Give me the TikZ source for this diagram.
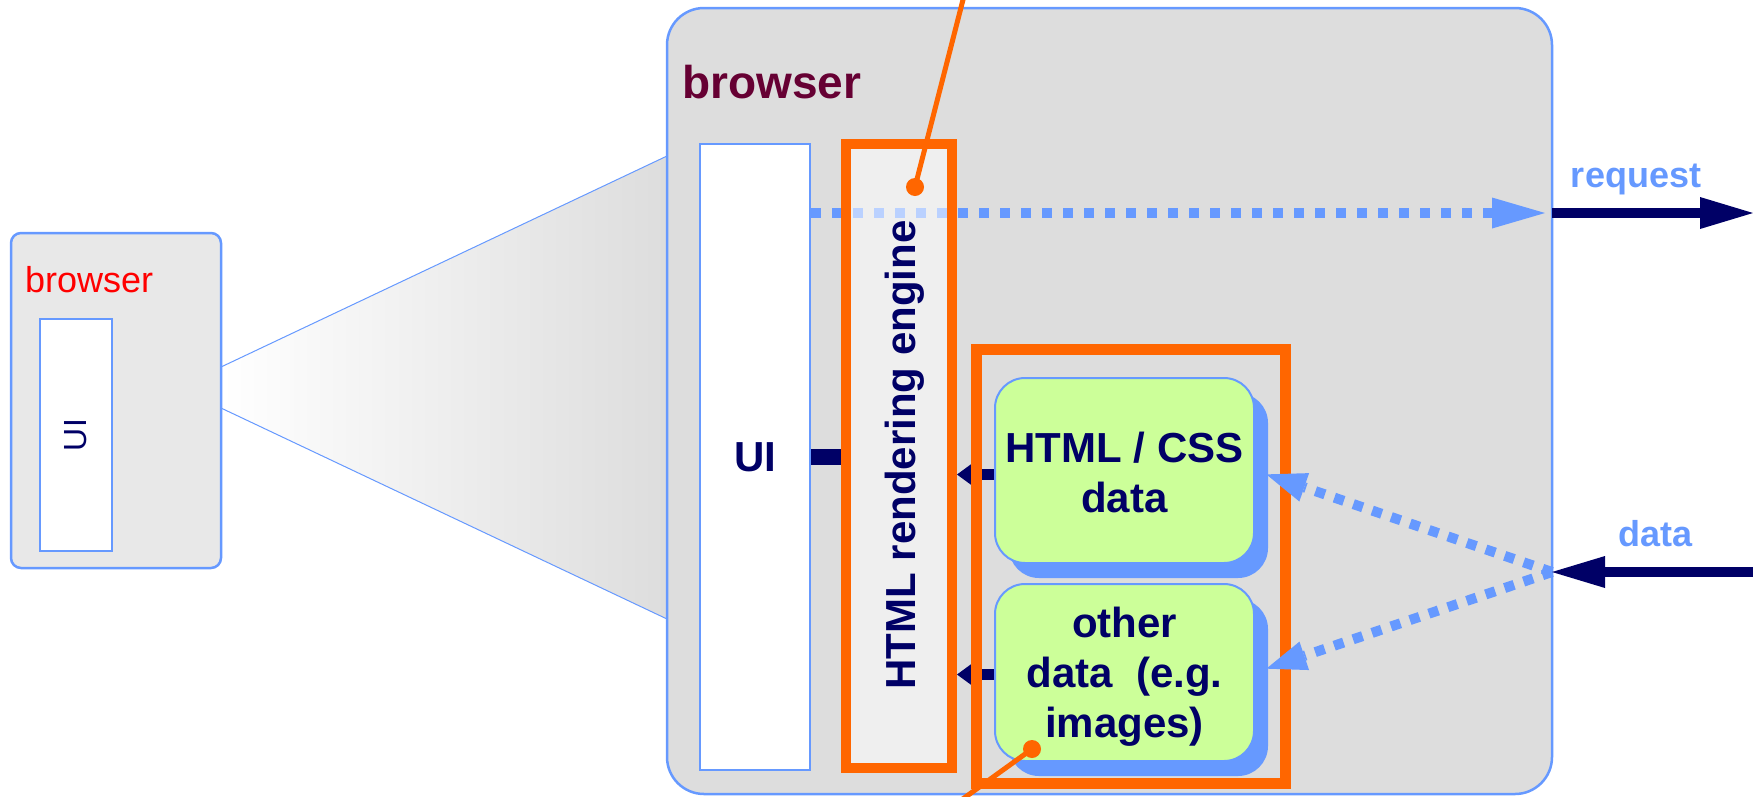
\documentclass[tikz,border=0pt]{standalone}
\usepackage{fontspec}
\setmainfont{Liberation Sans}
\usetikzlibrary{arrows.meta,shadows}

\definecolor{linkblue}{HTML}{6699FF}
\definecolor{navy}{HTML}{000066}
\definecolor{hilite}{HTML}{FF6600}
\definecolor{paleGreen}{HTML}{CCFF99}
\definecolor{panel}{HTML}{DDDDDD}
\definecolor{panelLight}{HTML}{E8E8E8}
\definecolor{wine}{HTML}{660033}

% font size in pt with a given baseline skip
\newcommand{\setfs}[2]{\fontsize{#1pt}{#2pt}\selectfont}

\begin{document}
\begin{tikzpicture}[x=1pt,y=-1pt,
  frame/.style={draw=linkblue, inner sep=0pt},
  smallframe/.style={frame, fill=panelLight, line width=2.5pt, rounded corners=10pt,
    minimum width=210pt, minimum height=335pt},
  bigframe/.style={frame, fill=panel, line width=2.5pt, rounded corners=37pt,
    minimum width=885pt, minimum height=786pt},
  uipane/.style={frame, fill=white, line width=2pt},
  enginebox/.style={draw=hilite, line width=10pt, fill=white, fill opacity=0.55,
    inner sep=0pt, minimum width=106pt, minimum height=624pt},
  groupbox/.style={draw=hilite, line width=11pt, inner sep=0pt,
    minimum width=309pt, minimum height=434pt},
  databox/.style={frame, fill=paleGreen, line width=2pt, rounded corners=30pt,
    minimum width=259pt, text=navy, align=center,
    font=\bfseries\setfs{42}{50},
    drop shadow={shadow xshift=14pt, shadow yshift=-15pt, fill=linkblue, opacity=1}},
  boldlabel/.style={text=navy, inner sep=0pt, font=\bfseries\setfs{42}{50}},
  flowlabel/.style={text=linkblue, inner sep=0pt, anchor=base, font=\bfseries\setfs{36}{42}},
  dotflow/.style={draw=linkblue, line width=10pt, dash pattern=on 10pt off 11pt},
  solidflow/.style={draw=navy, line width=10pt,
    -{Triangle[length=53pt,width=32pt,line width=0pt]}},
  feed/.style={draw=navy, line width=11pt,
    -{Triangle[length=15pt,width=22pt,line width=0pt]}},
  callout/.style={draw=hilite, line width=5pt},
]
\useasboundingbox (0,0) rectangle (1753,796);

% zoom fan between the small and the large browser
\coordinate (fanTL) at (221,367);
\coordinate (fanBL) at (221,408);
\coordinate (fanTR) at (667,156);
\coordinate (fanBR) at (667,619);
\shade[left color=white, right color=panel] (fanTL) -- (fanTR) -- (fanBR) -- (fanBL) -- cycle;
\draw[linkblue, line width=1pt] (fanTL) -- (fanTR) (fanBL) -- (fanBR);

% small browser
\node[smallframe] (small) at (116,400.5) {};
\node[text=red, anchor=base west, inner sep=0pt, font=\setfs{36}{42}] (smallTitle) at (25,292) {browser};
\node[uipane, line width=2.5pt, minimum width=72pt, minimum height=232pt] (smallUI) at (76,435) {};
\node[rotate=90, text=navy, inner sep=0pt, font=\setfs{32}{38}] (smallUIlabel) at (smallUI.center) {UI};

% large browser
\node[bigframe] (big) at (1109.5,401) {};
\node[text=wine, anchor=base west, inner sep=0pt, font=\bfseries\setfs{46}{54}] (bigTitle) at (682,98) {browser};

% user interface pane
\node[uipane, minimum width=110pt, minimum height=626pt, boldlabel] (ui) at (755,457) {UI};

% outgoing request (under the translucent engine box)
\coordinate (reqport) at (1552,213);
\coordinate (reqend) at (1753,213);
\draw[dotflow, shorten >=7pt, -{Triangle[length=53pt,width=31pt,line width=0pt]}]
  (ui.east |- reqport) -- (reqport);

% rendering engine
\node[enginebox] (engine) at (899,456) {};
\node[boldlabel, rotate=90, anchor=base] (engineLabel) at (915,455) {HTML rendering engine};

% UI <-> engine link
\draw[navy, line width=16pt] (ui.east) -- (ui.east -| engine.west);

% data sources
\node[databox, minimum height=185pt] (html) at (1124.5,470.5) {\rule{0pt}{35pt}HTML / CSS\\data};
\node[databox, minimum height=177pt] (other) at (1124.5,672.5) {\rule{0pt}{39pt}other\\data\ \ (e.g.\\images)};

\draw[feed] ([yshift=-4pt]html.west) -- ([yshift=-4pt]html.west -| engine.east);
\draw[feed] ([yshift=-2pt]other.west) -- ([yshift=-2pt]other.west -| engine.east);

% group frame around the data sources
\node[groupbox] (group) at (1130.5,566) {};

% incoming data
\coordinate (dataport) at (1552,572);
\coordinate (datasrc) at (1753,572);
\draw[dotflow, dash pattern=on 10pt off 10pt, shorten >=12pt,
  -{Triangle[length=40pt,width=30pt,line width=0pt]}] (dataport) -- (html.east);
\draw[dotflow, dash pattern=on 10pt off 10pt, shorten >=12pt,
  -{Triangle[length=40pt,width=30pt,line width=0pt]}] (dataport) -- (other.east);

% network side
\draw[solidflow] (reqport) -- (reqend);
\draw[solidflow] (datasrc) -- (dataport);
\node[flowlabel] (reqLabel) at (1636,187) {request};
\node[flowlabel] (dataLabel) at (1655,546) {data};

% callout markers
\coordinate (engineTag) at (915,187);
\coordinate (engineTagEnd) at (966,-12);
\draw[callout] (engineTag) -- (engineTagEnd);
\fill[hilite] (engineTag) circle (9pt);
\coordinate (dataTag) at (1032,749);
\coordinate (dataTagEnd) at (953,806);
\draw[callout] (dataTag) -- (dataTagEnd);
\fill[hilite] (dataTag) circle (9pt);
\end{tikzpicture}
\end{document}
